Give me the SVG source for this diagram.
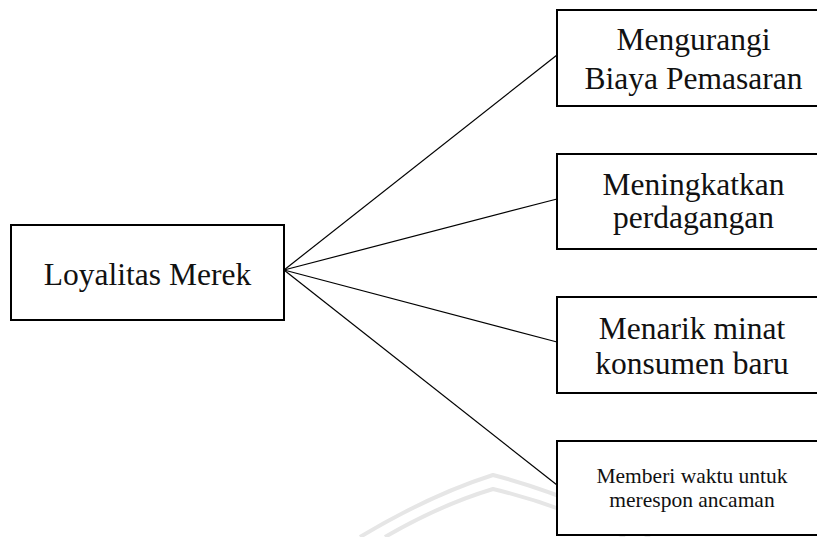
<svg xmlns="http://www.w3.org/2000/svg" width="817" height="537" viewBox="0 0 817 537">
<style>
.box{fill:#fff;stroke:#000;stroke-width:2}
.big{font-family:"Liberation Serif","Times New Roman",serif;font-size:31.5px;fill:#111;text-anchor:middle}
.small{font-family:"Liberation Serif","Times New Roman",serif;font-size:21.5px;fill:#111;text-anchor:middle}
.conn{stroke:#000;stroke-width:1.2;fill:none}
.wm{stroke:#e6e6e6;stroke-width:4;fill:none}
</style>
<rect width="817" height="537" fill="#fff"/>
<g id="watermark">
<path class="wm" d="M360,537 Q430,495 493,475 Q570,495 650,537"/>
<path class="wm" d="M385,537 Q440,505 493,489 Q560,505 625,537"/>
</g>
<g id="connectors">
<line class="conn" x1="284" y1="270" x2="557" y2="55"/>
<line class="conn" x1="284" y1="270" x2="557" y2="199"/>
<line class="conn" x1="284" y1="270" x2="557" y2="342"/>
<line class="conn" x1="284" y1="270" x2="557" y2="485"/>
</g>
<g id="loyalitas">
<rect class="box" x="11" y="225" width="273" height="95"/>
<text class="big" x="147.5" y="285">Loyalitas Merek</text>
</g>
<g id="biaya">
<rect class="box" x="557" y="10" width="273" height="96"/>
<text class="big" x="693.5" y="50">Mengurangi</text>
<text class="big" x="693.5" y="89">Biaya Pemasaran</text>
</g>
<g id="perdagangan">
<rect class="box" x="557" y="154" width="273" height="95"/>
<text class="big" x="693.5" y="195">Meningkatkan</text>
<text class="big" x="693.5" y="228">perdagangan</text>
</g>
<g id="konsumen">
<rect class="box" x="557" y="297" width="273" height="96"/>
<text class="big" x="692" y="339">Menarik minat</text>
<text class="big" x="692" y="374">konsumen baru</text>
</g>
<g id="ancaman">
<rect class="box" x="557" y="441" width="273" height="94"/>
<text class="small" x="692" y="483">Memberi waktu untuk</text>
<text class="small" x="692" y="507">merespon ancaman</text>
</g>
</svg>
